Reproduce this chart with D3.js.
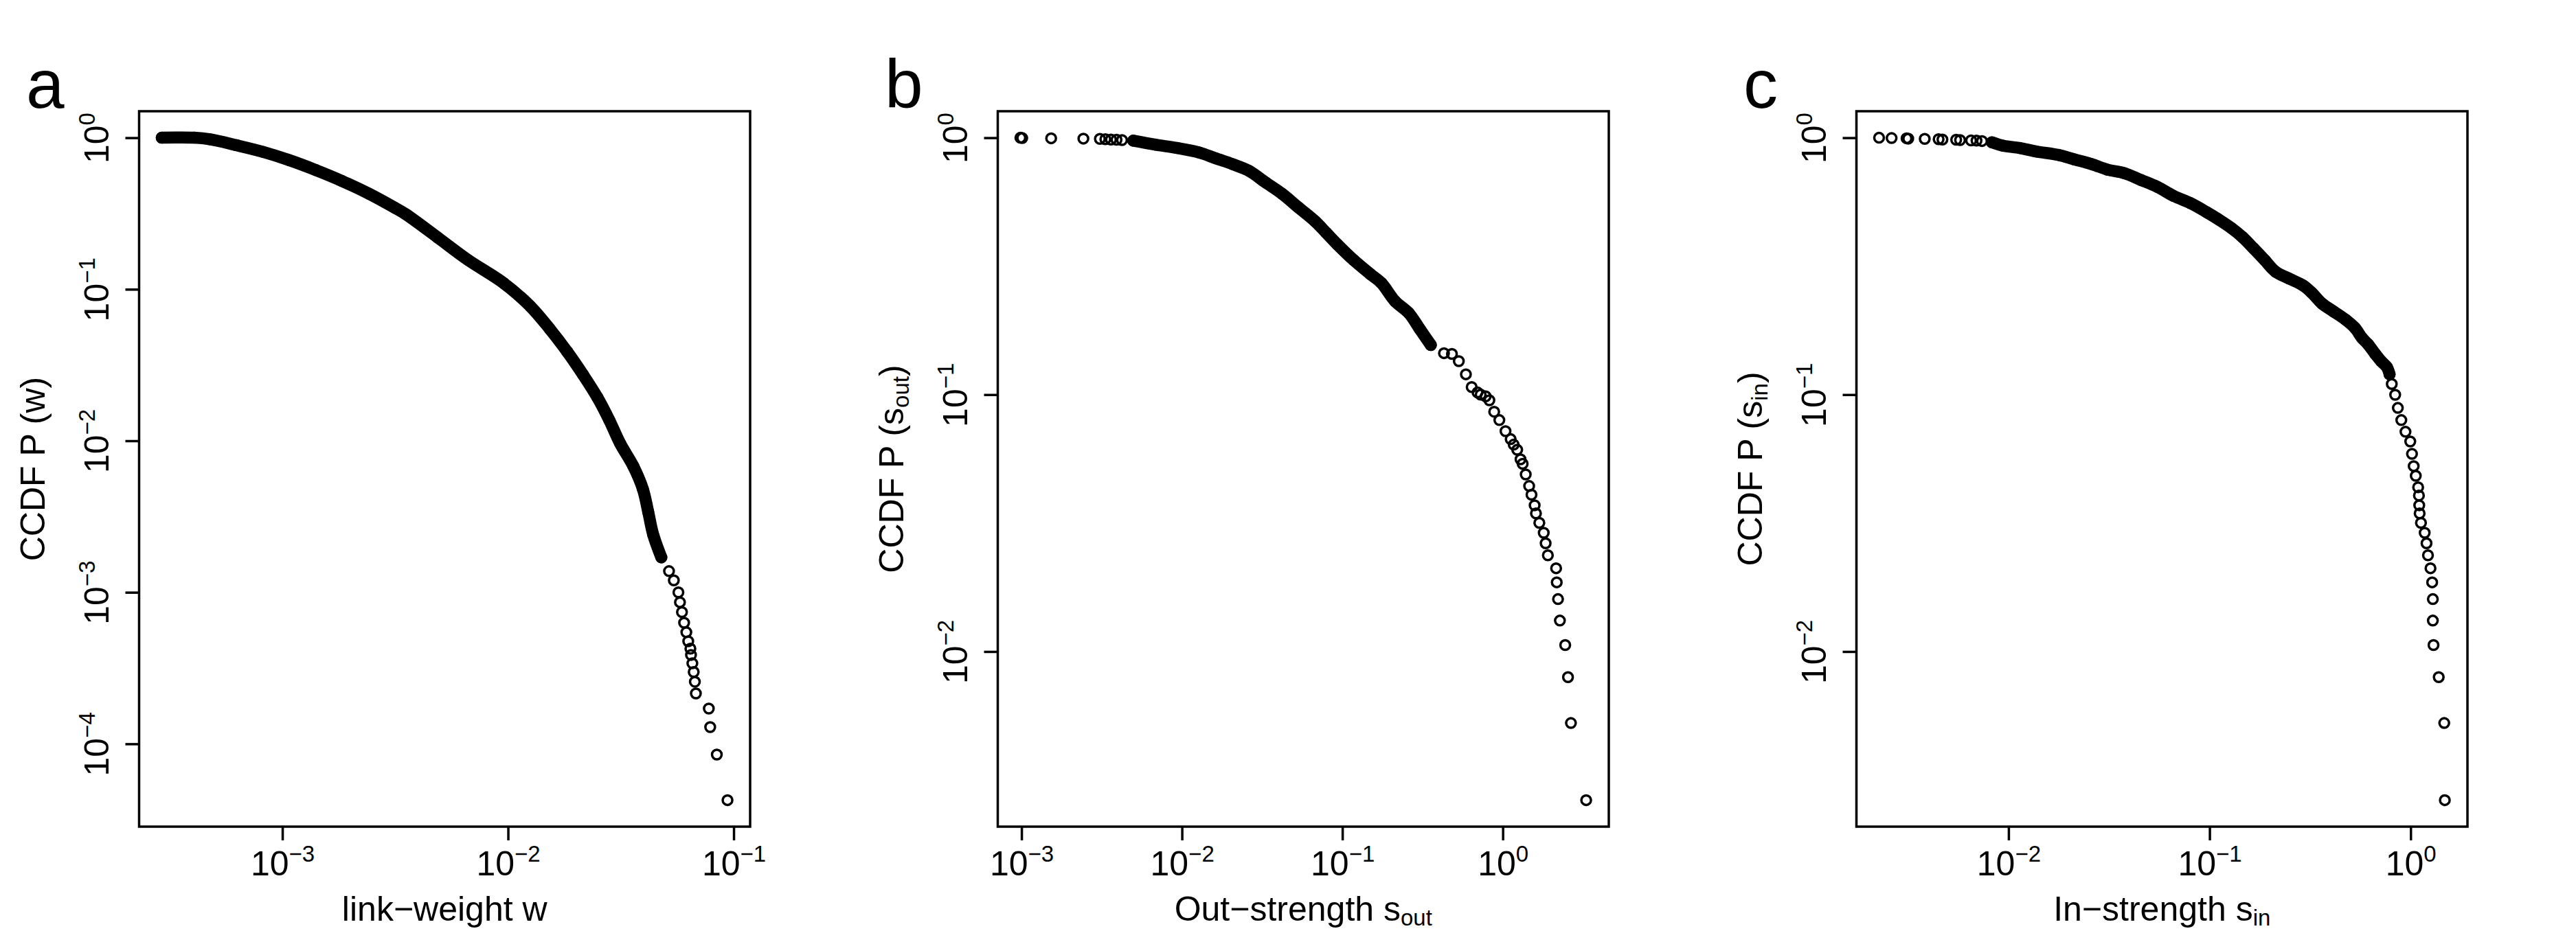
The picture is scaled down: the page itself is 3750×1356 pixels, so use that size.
<!DOCTYPE html>
<html>
<head>
<meta charset="utf-8">
<script src="https://cdn.jsdelivr.net/npm/d3@7"></script>
<style>
  body { margin: 0; background: #fff; }
  svg { display: block; }
  text { font-family: "Liberation Sans", Arial, Helvetica, sans-serif; fill: #000; }
</style>
</head>
<body>
<svg id="drawing_region"></svg>
<script>
// panel a : link weights
const weightW = [0.000292, 0.000407, 0.000478, 0.000626, 0.000819, 0.00107, 0.00141, 0.00184, 0.00242, 0.00316,
                 0.00352, 0.00487, 0.00665, 0.00955, 0.0125, 0.0153, 0.0183, 0.0215, 0.0249, 0.0281,
                 0.0314, 0.0359, 0.0396, 0.0418, 0.0440, 0.0478, 0.0517, 0.0543, 0.0569, 0.0578,
                 0.0590, 0.0603, 0.0617, 0.0629, 0.0643, 0.0647, 0.0656, 0.0665, 0.0673, 0.0680,
                 0.0776, 0.0787, 0.0842, 0.0939];
const weightP = [1.0, 1.0, 0.976, 0.892, 0.807, 0.712, 0.611, 0.518, 0.427, 0.344,
                 0.313, 0.220, 0.156, 0.110, 0.0777, 0.0548, 0.0387, 0.0273, 0.0193, 0.0137,
                 0.0096, 0.0068, 0.0048, 0.0034, 0.0024, 0.0017, 0.00138, 0.0012, 0.0010, 0.00086,
                 0.00074, 0.00063, 0.000545, 0.000475, 0.000425, 0.000386, 0.00034, 0.000298, 0.000257, 0.000215,
                 0.000171, 0.000129, 0.000085, 0.0000425];

// panel b : out-strength
const outS = [0.000984, 0.00101, 0.00153, 0.00243, 0.00308, 0.00333, 0.00361, 0.00391, 0.00423,
              0.00497, 0.00682, 0.00936, 0.0128, 0.0163, 0.0206, 0.0262, 0.0332, 0.0421, 0.0533,
              0.0676, 0.0792, 0.0928, 0.1176, 0.149, 0.175, 0.213, 0.259, 0.304, 0.356,
              0.430, 0.482, 0.532, 0.589, 0.640, 0.696, 0.728, 0.782, 0.825, 0.884,
              0.952, 1.04, 1.12, 1.17, 1.23, 1.29, 1.33, 1.39, 1.46, 1.51,
              1.58, 1.61, 1.69, 1.80, 1.85, 1.91, 2.15, 2.17, 2.21, 2.27,
              2.45, 2.55, 2.66, 3.31];
const outP = [1.0, 0.997, 0.995, 0.992, 0.990, 0.987, 0.984, 0.982, 0.979,
              0.974, 0.940, 0.912, 0.876, 0.831, 0.790, 0.743, 0.670, 0.605, 0.535,
              0.473, 0.427, 0.385, 0.334, 0.295, 0.272, 0.231, 0.208, 0.180, 0.156,
              0.145, 0.144, 0.135, 0.120, 0.107, 0.102, 0.100, 0.0985, 0.0951, 0.0858,
              0.0796, 0.0721, 0.0671, 0.0639, 0.0610, 0.0560, 0.0538, 0.0489, 0.0441, 0.0408,
              0.0371, 0.0345, 0.0317, 0.0290, 0.0264, 0.0237, 0.0211, 0.0186, 0.0160, 0.0132,
              0.0106, 0.00795, 0.00527, 0.00264];

// panel c : in-strength
const inS = [0.00227, 0.00262, 0.00311, 0.00317, 0.00383, 0.00449, 0.00469, 0.00549, 0.00574, 0.00651,
             0.00693, 0.00738, 0.00827, 0.00941, 0.01137, 0.01374, 0.0177, 0.0213, 0.0258, 0.0311,
             0.0376, 0.0455, 0.0549, 0.0664, 0.0801, 0.0968, 0.1099, 0.1285, 0.146, 0.166,
             0.188, 0.213, 0.249, 0.292, 0.321, 0.363, 0.413, 0.474, 0.528, 0.574,
             0.614, 0.667, 0.713, 0.762, 0.786, 0.806, 0.838, 0.864, 0.899, 0.943,
             0.996, 1.016, 1.036, 1.061, 1.09, 1.100, 1.104, 1.109, 1.126, 1.175,
             1.20, 1.22, 1.256, 1.28, 1.29, 1.29, 1.30, 1.38, 1.47, 1.48];
const inP = [1.0, 0.997, 0.995, 0.992, 0.990, 0.987, 0.984, 0.982, 0.979, 0.976,
             0.974, 0.971, 0.960, 0.931, 0.912, 0.884, 0.857, 0.823, 0.790, 0.751,
             0.728, 0.685, 0.644, 0.593, 0.557, 0.513, 0.483, 0.445, 0.410, 0.370,
             0.334, 0.301, 0.283, 0.266, 0.250, 0.226, 0.211, 0.196, 0.182, 0.166,
             0.157, 0.144, 0.135, 0.128, 0.120, 0.110, 0.0999, 0.0888, 0.0796, 0.0717,
             0.0657, 0.0588, 0.0527, 0.0483, 0.0436, 0.0405, 0.0371, 0.0345, 0.0317, 0.0290,
             0.0264, 0.0237, 0.0211, 0.0186, 0.0160, 0.0132, 0.0106, 0.00795, 0.00527, 0.00264];

// tick exponents
const weightXTicks = [-3, -2, -1];
const weightYTicks = [0, -1, -2, -3, -4];
const outXTicks = [-3, -2, -1, 0];
const outYTicks = [0, -1, -2];
const inXTicks = [-2, -1, 0];
const inYTicks = [0, -1, -2];

const svg = d3.select('#drawing_region')
    .attr('width', 3750)
    .attr('height', 1356);

class CcdfPlot {

    constructor( config, data ) {
        this.config = config;
        this.data = data;
        this.init();
    }

    init() {
        let self = this;
        self.chart = svg.append('g')
            .attr('transform', `translate(${self.config.x}, 0)`);
        self.left = 202.5;
        self.right = 1092;
        self.top = 162;
        self.bottom = 1204;
    }

    update() {
        let self = this;
        // R style: log range padded by 4% on each side
        const pad = ext => {
            const a = Math.log10(ext[0]), b = Math.log10(ext[1]);
            const p = (b - a) * 0.04;
            return [Math.pow(10, a - p), Math.pow(10, b + p)];
        };
        self.xscale = d3.scaleLog()
            .domain(pad(d3.extent(self.data, d => d.x)))
            .range([self.left, self.right]);
        self.yscale = d3.scaleLog()
            .domain(pad(d3.extent(self.data, d => d.p)))
            .range([self.bottom, self.top]);
        self.render();
    }

    render() {
        let self = this;
        const c = self.config;
        const pow = (sel, e) => {
            sel.text(null);
            sel.append('tspan').attr('font-size', 50).text('10');
            sel.append('tspan').attr('dy', -20).attr('font-size', 33)
                .text(e < 0 ? '\u2212' + (-e) : String(e));
        };

        // dense part: overlapping circles merge into a solid band
        const band = self.data.filter(d => d.x >= c.band[0] && d.x <= c.band[1]);
        const line = d3.line()
            .x(d => self.xscale(d.x))
            .y(d => self.yscale(d.p))
            .curve(d3.curveCatmullRom.alpha(0.5));
        self.chart.append('path')
            .datum(band)
            .attr('d', line)
            .attr('fill', 'none')
            .attr('stroke', '#000')
            .attr('stroke-width', 17.5)
            .attr('stroke-linecap', 'round')
            .attr('stroke-linejoin', 'round');

        self.chart.selectAll('circle')
            .data(self.data)
            .join('circle')
            .attr('cx', d => self.xscale(d.x))
            .attr('cy', d => self.yscale(d.p))
            .attr('r', 7)
            .attr('fill', 'none')
            .attr('stroke', '#000')
            .attr('stroke-width', 3.5);

        self.chart.append('rect')
            .attr('x', self.left)
            .attr('y', self.top)
            .attr('width', self.right - self.left)
            .attr('height', self.bottom - self.top)
            .attr('fill', 'none')
            .attr('stroke', '#000')
            .attr('stroke-width', 3.5);

        const xaxis = d3.axisBottom(self.xscale)
            .tickValues(c.xTicks.map(e => Math.pow(10, e)))
            .tickSize(20)
            .tickSizeOuter(0);
        const xg = self.chart.append('g')
            .attr('transform', `translate(0, ${self.bottom})`)
            .call(xaxis)
            .attr('font-size', 50)
            .attr('font-family', null);
        xg.select('.domain').remove();
        xg.selectAll('.tick line').attr('stroke-width', 3.5);
        xg.selectAll('.tick text')
            .attr('y', 71)
            .attr('dy', 0)
            .each(function(d) { pow(d3.select(this), Math.round(Math.log10(d))); });

        const yaxis = d3.axisLeft(self.yscale)
            .tickValues(c.yTicks.map(e => Math.pow(10, e)))
            .tickSize(20)
            .tickSizeOuter(0);
        const yg = self.chart.append('g')
            .attr('transform', `translate(${self.left}, 0)`)
            .call(yaxis)
            .attr('font-size', 50)
            .attr('font-family', null);
        yg.select('.domain').remove();
        yg.selectAll('.tick line').attr('stroke-width', 3.5);
        yg.selectAll('.tick text')
            .attr('transform', 'rotate(-90)')
            .attr('x', 0)
            .attr('y', -45)
            .attr('dy', 0)
            .attr('text-anchor', 'middle')
            .each(function(d) { pow(d3.select(this), Math.round(Math.log10(d))); });

        // axis titles
        const xt = self.chart.append('text')
            .attr('x', (self.left + self.right) / 2)
            .attr('y', 1341)
            .attr('text-anchor', 'middle')
            .attr('font-size', 50);
        xt.append('tspan').text(c.xTitle[0]);
        if (c.xTitle[1]) {
            xt.append('tspan').attr('dy', 7).attr('font-size', 33).text(c.xTitle[1]);
        }

        const yt = self.chart.append('text')
            .attr('transform', `translate(${self.left - 138}, ${(self.top + self.bottom) / 2}) rotate(-90)`)
            .attr('text-anchor', 'middle')
            .attr('font-size', 50);
        yt.append('tspan').text(c.yTitle[0]);
        if (c.yTitle[1]) {
            yt.append('tspan').attr('dy', 8).attr('font-size', 33).text(c.yTitle[1]);
            yt.append('tspan').attr('dy', -8).text(c.yTitle[2]);
        }

        self.chart.append('text')
            .attr('x', 38)
            .attr('y', 157)
            .attr('font-size', 100)
            .text(c.letter);
    }
}

const zipPoints = (xs, ps) => xs.map((x, i) => ({ x: x, p: ps[i] }));

const plots = [
    new CcdfPlot({ x: 0, letter: 'a', band: [0, 0.0478],
                   xTicks: weightXTicks, yTicks: weightYTicks,
                   xTitle: ['link\u2212weight w'], yTitle: ['CCDF P (w)'] },
                 zipPoints(weightW, weightP)),
    new CcdfPlot({ x: 1250, letter: 'b', band: [0.0049, 0.357],
                   xTicks: outXTicks, yTicks: outYTicks,
                   xTitle: ['Out\u2212strength s', 'out'], yTitle: ['CCDF P (s', 'out', ')'] },
                 zipPoints(outS, outP)),
    new CcdfPlot({ x: 2500, letter: 'c', band: [0.0082, 0.79],
                   xTicks: inXTicks, yTicks: inYTicks,
                   xTitle: ['In\u2212strength s', 'in'], yTitle: ['CCDF P (s', 'in', ')'] },
                 zipPoints(inS, inP))
];
plots.forEach(p => p.update());
</script>
</body>
</html>
